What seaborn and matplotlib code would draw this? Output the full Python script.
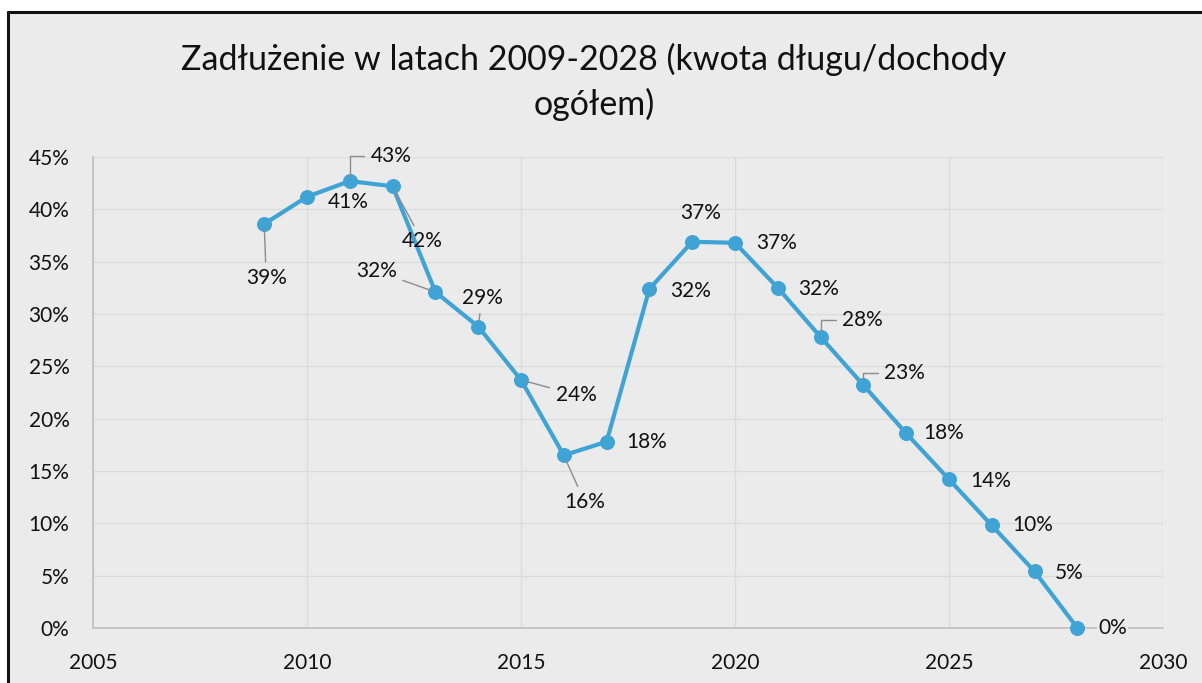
import matplotlib
matplotlib.use("Agg")
import matplotlib.pyplot as plt
import matplotlib.patches as mpatches
from matplotlib.lines import Line2D
from matplotlib.ticker import PercentFormatter
import pandas as pd
import seaborn as sns

# data
years = list(range(2009, 2029))
debt = [38.6, 41.2, 42.7, 42.2, 32.1, 28.8, 23.7, 16.5, 17.8, 32.4,
        36.9, 36.8, 32.5, 27.8, 23.2, 18.6, 14.2, 9.8, 5.4, 0.0]
labels = ["39%", "41%", "43%", "42%", "32%", "29%", "24%", "16%", "18%", "32%",
          "37%", "37%", "32%", "28%", "23%", "18%", "14%", "10%", "5%", "0%"]
title = "Zadłużenie w latach 2009-2028 (kwota długu/dochody\nogółem)"

# label placement (pixels from the point) and leader line style (None = no leader)
offsets = [(2, -54), (41, -5), (41, 25), (30, -55), (-59, 21), (4, 29), (55, -15),
           (21, -47), (40, 0), (41, -2), (8, 29), (42, 0), (41, -1), (42, 17),
           (41, 12), (37, 0), (42, -2), (41, 0), (35, -2), (35, 0)]
ELBOW = "angle,angleA=0,angleB=90,rad=0"
STRAIGHT = "arc3"
leaders = [STRAIGHT, None, ELBOW, STRAIGHT, STRAIGHT, STRAIGHT, STRAIGHT, STRAIGHT, None, None,
           None, None, None, ELBOW, ELBOW, None, None, None, None, None]

df = pd.DataFrame({"year": years, "debt": debt})

sns.set_theme(style="white")
plt.rcParams["font.family"] = ["Lato", "DejaVu Sans"]

BLUE = "#3fa3d6"
BG = "#ebebeb"

fig = plt.figure(figsize=(12.02, 6.83), dpi=100)
fig.patch.set_facecolor("white")

# scanned chart area with its black frame
fig.patches.append(mpatches.Rectangle((8 / 1202, 0), 1, 1 - 12 / 683, transform=fig.transFigure,
                                      facecolor=BG, edgecolor="none", zorder=-10))
fig.lines.append(Line2D([8 / 1202, 1], [1 - 12 / 683, 1 - 12 / 683], transform=fig.transFigure,
                        color="#111111", lw=2.2, zorder=5))
fig.lines.append(Line2D([8 / 1202, 8 / 1202], [0, 1 - 12 / 683], transform=fig.transFigure,
                        color="#111111", lw=2.2, zorder=5))

ax = fig.add_axes([93 / 1202, 1 - 628 / 683, (1163 - 93) / 1202, (628 - 157) / 683])
ax.set_facecolor(BG)

sns.lineplot(data=df, x="year", y="debt", ax=ax, color=BLUE, lw=3, marker="o",
             markersize=10, markeredgecolor=BLUE, zorder=3, clip_on=False)

ax.set_xlim(2005, 2030)
ax.set_ylim(0, 45)
ax.set_xticks(range(2005, 2031, 5))
ax.set_yticks(range(0, 46, 5))
ax.yaxis.set_major_formatter(PercentFormatter(decimals=0))
ax.grid(True, color="#dcdcdc", lw=1)
ax.set_xlabel("")
ax.set_ylabel("")
for side in ["top", "right"]:
    ax.spines[side].set_visible(False)
for side in ["left", "bottom"]:
    ax.spines[side].set_color("#c0c0c0")
    ax.spines[side].set_linewidth(1.2)
ax.tick_params(axis="both", length=0, labelsize=15, colors="#111111")
ax.tick_params(axis="x", pad=18)
ax.tick_params(axis="y", pad=17)

for x, y, lab, (dx, dy), lead in zip(years, debt, labels, offsets, leaders):
    arrow = None
    if lead:
        arrow = dict(arrowstyle="-", color="#8c8c8c", lw=1, shrinkA=2, shrinkB=4,
                     connectionstyle=lead)
    ax.annotate(lab, (x, y), xytext=(dx, dy), textcoords="offset pixels",
                ha="center", va="center", fontsize=15, color="#111111",
                arrowprops=arrow, zorder=4,
                bbox=dict(boxstyle="square,pad=0.05", fc=BG, ec="none") if lab == "0%" else None)

fig.text(594 / 1202, 1 - 82 / 683, title, ha="center", va="center", fontsize=24.5,
         color="#111111", linespacing=1.45)

fig.savefig("out.png", dpi=100)
